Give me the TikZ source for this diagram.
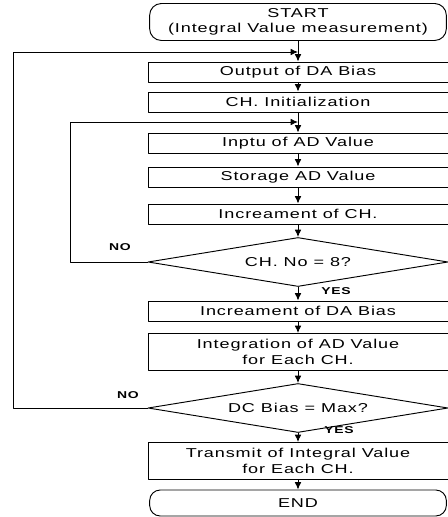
\documentclass[tikz,border=0pt]{standalone}
\usepackage{fontspec}
\setmainfont{Liberation Sans}[FakeStretch=1.4,LetterSpace=7]
\usetikzlibrary{arrows.meta,shapes.geometric}

\begin{document}
\begin{tikzpicture}[>={Latex[length=2.2mm,width=2mm]}, line cap=round, line join=round, line width=0.8pt,
	txt/.style={font=\fontsize{11}{13}\selectfont, align=center},
	box/.style={txt, draw, rectangle, minimum width=9cm, minimum height=0.6cm, inner sep=1pt},
	tallbox/.style={box, minimum height=1.11cm},
	term/.style={txt, draw, rectangle, rounded corners=10pt, minimum width=8.9cm, inner sep=1pt},
	test/.style={txt, draw, diamond, aspect=6, inner sep=0pt, minimum width=9cm, minimum height=1.47cm},
	tag/.style={font=\fontsize{8.5}{10}\selectfont\bfseries}]
	
	\useasboundingbox (0,0) rectangle (13.41,-15.51);
	
	% --- main column ---
	\node[term, minimum height=1.11cm] (start) at (8.94,-0.66) {START\\(Integral Value measurement)};
	\node[box] (daout) at (8.94,-2.16) {Output of DA Bias};
	\node[box] (chinit) at (8.94,-3.06) {CH. Initialization};
	\node[box] (adin) at (8.94,-4.29) {Inptu of AD Value};
	\node[box] (adstore) at (8.94,-5.31) {Storage AD Value};
	\node[box] (chinc) at (8.94,-6.42) {Increament of CH.};
	\node[test] (chk) at (8.94,-7.86) {CH. No = 8?};
	\node[box] (dainc) at (8.94,-9.33) {Increament of DA Bias};
	\node[tallbox] (integ) at (8.94,-10.56) {Integration of AD Value\\for Each CH.};
	\node[test] (biaschk) at (8.94,-12.24) {DC Bias = Max?};
	\node[tallbox] (transmit) at (8.94,-13.83) {Transmit of Integral Value\\for Each CH.};
	\node[term, minimum height=0.78cm, rounded corners=9pt] (stop) at (8.94,-15.09) {END};
	
	% join points and loop columns
	\coordinate (j1) at (8.94,-1.56);
	\coordinate (j2) at (8.94,-3.66);
	\coordinate (outer) at (0.39,0);
	\coordinate (inner) at (2.1,0);
	
	% --- forward flow ---
	\draw[->] (start) -- (daout);
	\draw[->] (daout) -- (chinit);
	\draw[->] (chinit) -- (adin);
	\draw[->] (adin) -- (adstore);
	\draw[->] (adstore) -- (chinc);
	\draw[->] (chinc) -- (chk);
	\draw[->] (chk) -- (dainc);
	\draw[->] (dainc) -- (integ);
	\draw[->] (integ) -- (biaschk);
	\draw[->] (biaschk) -- (transmit);
	\draw[->] (transmit) -- (stop);
	
	% --- loops back ---
	\draw[->] (chk.west) -- (chk.west -| inner) |- (j2);
	\draw[->] (biaschk.west) -- (biaschk.west -| outer) |- (j1);
	
	% branch labels
	\node[tag] (no1) at (3.6,-7.41) {NO};
	\node[tag] (yes1) at (10.08,-8.73) {YES};
	\node[tag] (no2) at (3.84,-11.85) {NO};
	\node[tag] (yes2) at (10.17,-12.9) {YES};
	
\end{tikzpicture}
\end{document}
